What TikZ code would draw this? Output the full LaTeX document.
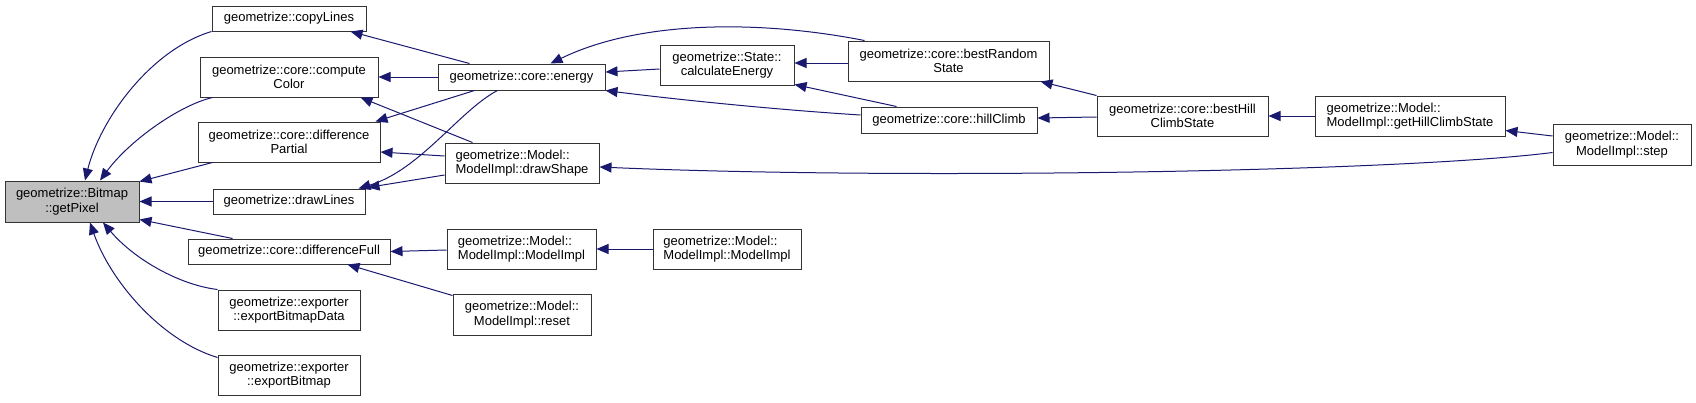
\documentclass[tikz,border=0pt]{standalone}
\usepackage{fontspec}
\setmainfont{Liberation Sans}
\usetikzlibrary{arrows.meta,calc}
\definecolor{edgec}{RGB}{25,25,112}
\definecolor{hl}{RGB}{191,191,191}
\begin{document}
\begin{tikzpicture}[x=1pt,y=-1pt,
  box/.style={draw=black!80, fill=white, line width=1pt, inner sep=1pt,
    font=\fontsize{13}{14.5}\selectfont, align=center, text=black},
  lbox/.style={box, align=left},
  edge/.style={draw=edgec, line width=1pt, -{Triangle[length=12pt,width=10pt]}}]
\useasboundingbox (0,0) rectangle (1696,402);
% nodes
\node[box, fill=hl, minimum width=134, minimum height=41] (gp) at (72,201.5) {geometrize::Bitmap\\::getPixel};
\node[box, minimum width=154, minimum height=25] (cl) at (289,18.5) {geometrize::copyLines};
\node[box, minimum width=178, minimum height=40] (cc) at (289,77) {geometrize::core::compute\\Color};
\node[box, minimum width=182, minimum height=40] (dp) at (289,142) {geometrize::core::difference\\Partial};
\node[box, minimum width=152, minimum height=25] (dl) at (289,201.5) {geometrize::drawLines};
\node[box, minimum width=202, minimum height=25] (df) at (289,251.5) {geometrize::core::differenceFull};
\node[box, minimum width=142, minimum height=40] (ebd) at (289,310) {geometrize::exporter\\::exportBitmapData};
\node[box, minimum width=142, minimum height=40] (eb) at (289,375) {geometrize::exporter\\::exportBitmap};
\node[box, minimum width=167, minimum height=26] (en) at (521.5,77) {geometrize::core::energy};
\node[lbox, minimum width=154, minimum height=40] (ds) at (522,163) {geometrize::Model::\\ModelImpl::drawShape};
\node[lbox, minimum width=149, minimum height=40] (mia) at (521.5,249) {geometrize::Model::\\ModelImpl::ModelImpl};
\node[box, minimum width=138, minimum height=41] (rs) at (522,314.5) {geometrize::Model::\\ModelImpl::reset};
\node[box, minimum width=134, minimum height=40] (ce) at (727,65) {geometrize::State::\\calculateEnergy};
\node[lbox, minimum width=148, minimum height=40] (mib) at (727,249) {geometrize::Model::\\ModelImpl::ModelImpl};
\node[box, minimum width=201, minimum height=40] (brs) at (948.5,61) {geometrize::core::bestRandom\\State};
\node[box, minimum width=176, minimum height=26] (hc) at (949,120) {geometrize::core::hillClimb};
\node[box, minimum width=171, minimum height=40] (bhcs) at (1182.5,116) {geometrize::core::bestHill\\ClimbState};
\node[lbox, minimum width=190, minimum height=40] (ghcs) at (1410,116) {geometrize::Model::\\ModelImpl::getHillClimbState};
\node[box, minimum width=138, minimum height=41] (st) at (1622,144.5) {geometrize::Model::\\ModelImpl::step};
% edges
\draw[edge] (cl.south west) .. controls (150,50) and (100,120) .. ($(gp.north)+(13,0)$);
\draw[edge] ($(cc.south west)+(13,0)$) .. controls (180,105) and (130,140) .. ($(gp.north)+(28,0)$);
\draw[edge] ($(dp.south west)+(15,0)$) -- ($(gp.north east)+(0,1)$);
\draw[edge] (dl.west) -- (gp.east);
\draw[edge] ($(df.north west)+(45,0)$) -- ($(gp.south east)+(0,-3)$);
\draw[edge] (ebd.north west) .. controls (180,285) and (135,260) .. ($(gp.south)+(31,0)$);
\draw[edge] ($(eb.north west)+(0,3)$) .. controls (160,340) and (110,280) .. ($(gp.south)+(18,0)$);
\draw[edge] ($(en.north west)+(32,0)$) -- ($(cl.south east)+(-16,0)$);
\draw[edge] (en.west) -- (cc.east);
\draw[edge] ($(en.south west)+(37,0)$) -- ($(dp.north east)+(-5,0)$);
\draw[edge] ($(en.south west)+(60,0)$) .. controls (460,110) and (420,170) .. ($(dl.north east)+(-7,0)$);
\draw[edge] ($(ds.north west)+(28,0)$) -- ($(cc.south east)+(-18,0)$);
\draw[edge] ($(ds.west)+(0,-7)$) -- ($(dp.east)+(0,10)$);
\draw[edge] ($(ds.west)+(0,12)$) -- ($(dl.north east)+(2,-1)$);
\draw[edge] ($(ce.west)+(0,4)$) -- ($(en.east)+(0,-5)$);
\draw[edge] ($(brs.north west)+(17,0)$) .. controls (760,20) and (640,20) .. ($(en.north)+(29,0)$);
\draw[edge] ($(hc.west)+(0,-5)$) .. controls (780,110) and (680,100) .. (en.south east);
\draw[edge] ($(brs.west)+(0,2)$) -- ($(ce.east)+(0,-2)$);
\draw[edge] ($(hc.north west)+(36,0)$) -- ($(ce.south east)+(0,-1)$);
\draw[edge] (bhcs.north west) -- ($(brs.south east)+(-9,0)$);
\draw[edge] ($(bhcs.west)+(0,1)$) -- ($(hc.east)+(0,-2)$);
\draw[edge] (ghcs.west) -- (bhcs.east);
\draw[edge] ($(st.west)+(0,-8.5)$) -- ($(ghcs.south east)+(0,-6)$);
\draw[edge] ($(st.west)+(0,8)$) .. controls (1400,172) and (900,180) .. ($(ds.east)+(0,4)$);
\draw[edge] ($(mia.west)+(0,1)$) -- (df.east);
\draw[edge] ($(rs.north west)+(0,2)$) -- ($(df.south east)+(-43,0)$);
\draw[edge] (mib.west) -- (mia.east);
\end{tikzpicture}
\end{document}
